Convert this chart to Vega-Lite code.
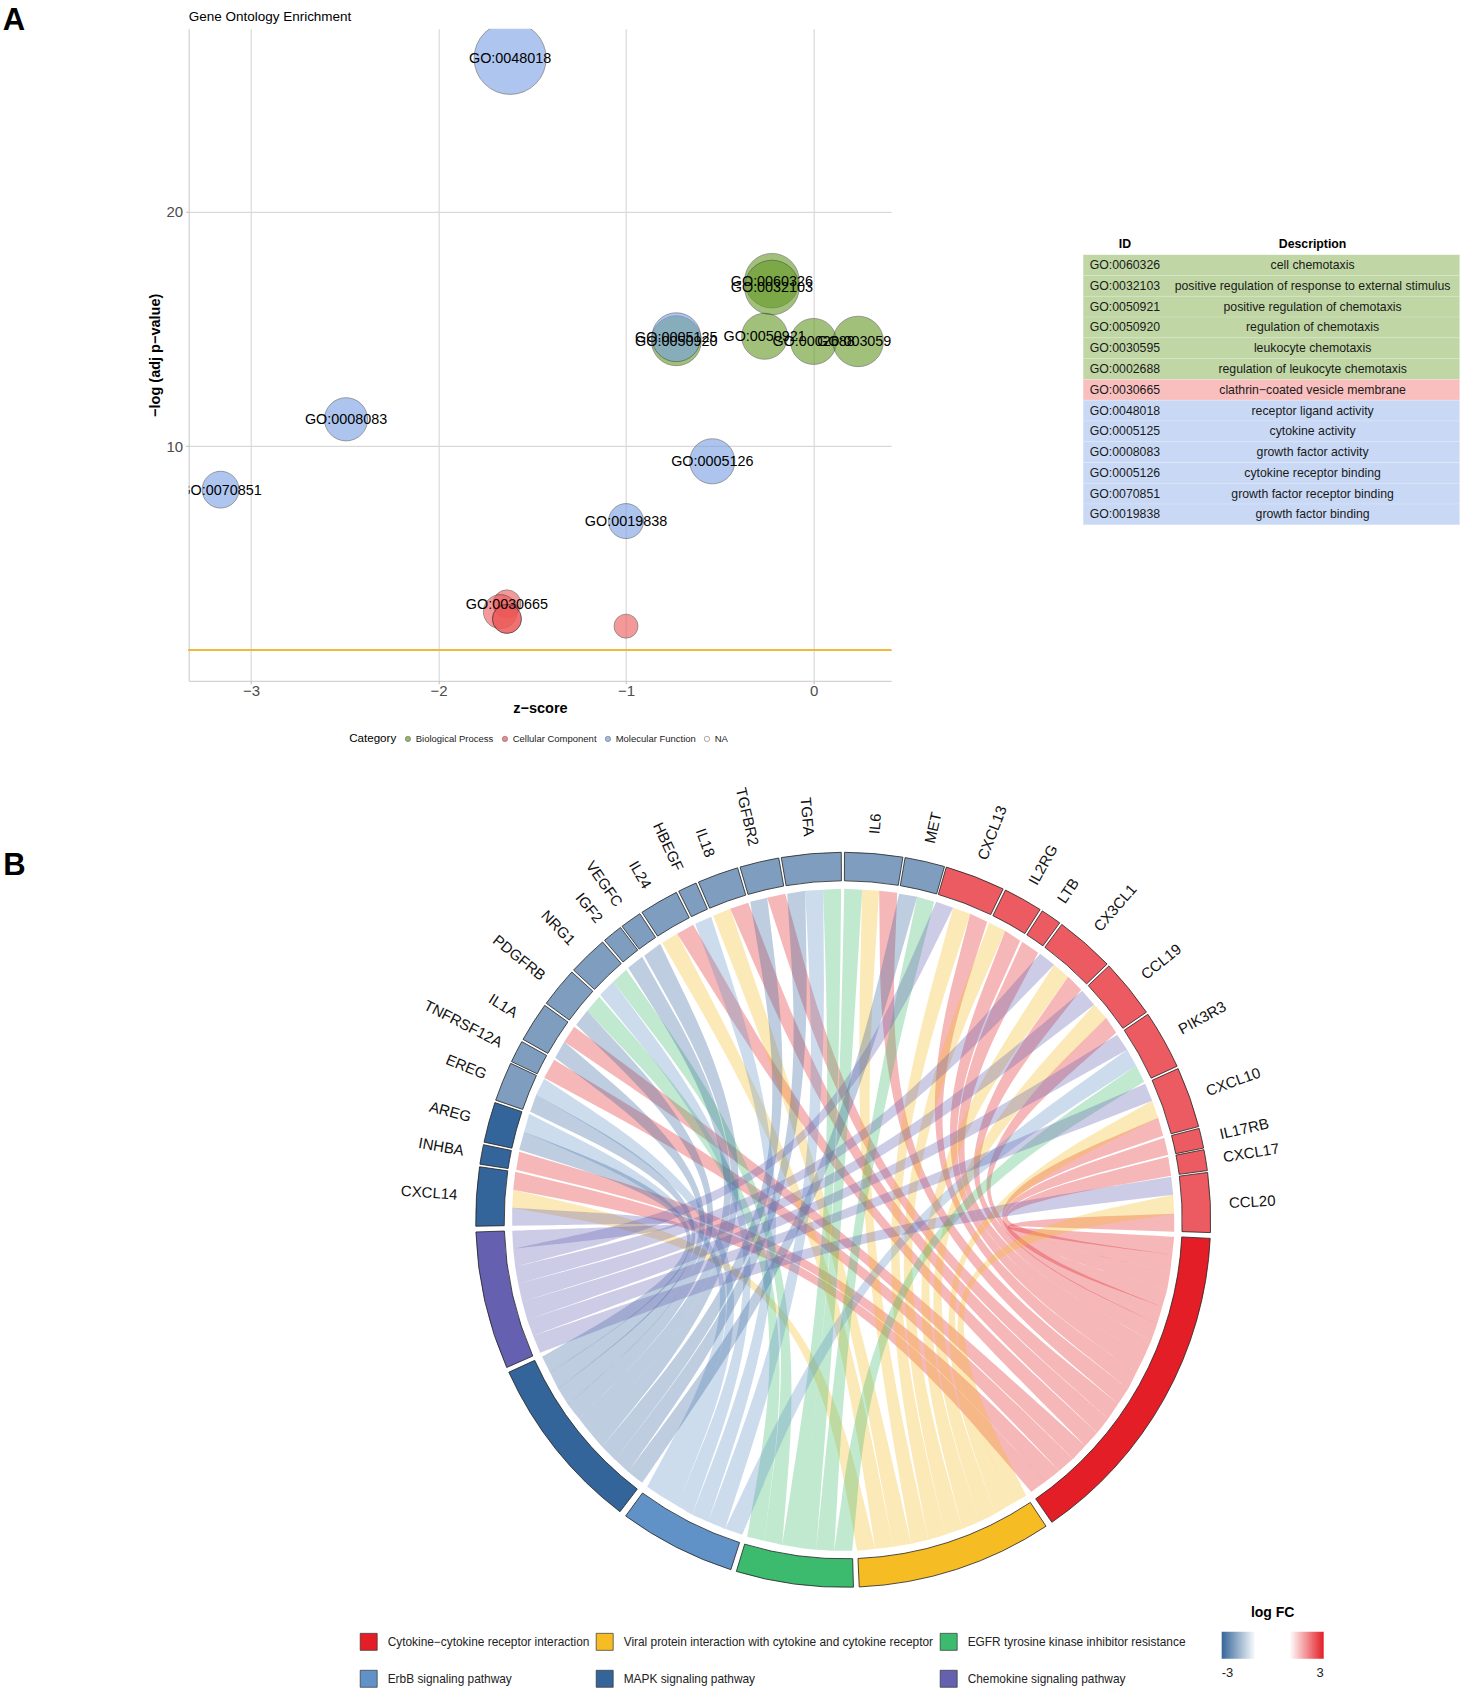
{"$schema":"https://vega.github.io/schema/vega-lite/v6.json","padding":{"left":2.7,"top":3.8,"right":0,"bottom":0},"background":"white","config":{"font":"Liberation Sans","view":{"stroke":null},"axis":{"labelFontSize":15,"labelColor":"#4d4d4d","titleFontSize":14.5,"titleFontWeight":"bold","titleColor":"#000","tickColor":"#bbbbbb","tickSize":3,"domainColor":"#c8c8c8","gridColor":"#d9d9d9","gridWidth":1.2,"labelPadding":3},"legend":{"labelFont":"Liberation Sans","titleFont":"Liberation Sans"}},"columns":2,"bounds":"flush","spacing":{"row":100,"column":191.5},"resolve":{"scale":{"color":"independent","fill":"independent","size":"independent"},"legend":{"color":"independent","fill":"independent","size":"independent"}},"concat":[{"width":702.5,"height":652,"layer":[{"data":{"values":[{"go":"GO:0048018","cat":"Molecular Function","z":-1.618,"p":26.54,"n":102},{"go":"GO:0008083","cat":"Molecular Function","z":-2.493,"p":11.15,"n":36.6},{"go":"GO:0070851","cat":"Molecular Function","z":-3.162,"p":8.15,"n":26.6},{"go":"GO:0005126","cat":"Molecular Function","z":-0.54,"p":9.36,"n":40},{"go":"GO:0019838","cat":"Molecular Function","z":-1,"p":6.81,"n":24},{"go":"GO:0050920","cat":"Biological Process","z":-0.732,"p":14.5,"n":49},{"go":"GO:0005125","cat":"Molecular Function","z":-0.732,"p":14.65,"n":47},{"go":"GO:0060326","cat":"Biological Process","z":-0.222,"p":17.06,"n":58.5},{"go":"GO:0032103","cat":"Biological Process","z":-0.222,"p":16.77,"n":58.5},{"go":"GO:0050921","cat":"Biological Process","z":-0.261,"p":14.69,"n":41.5},{"go":"GO:0002688","cat":"Biological Process","z":0,"p":14.47,"n":41.5},{"go":"GO:0030595","cat":"Biological Process","z":0.238,"p":14.47,"n":50},{"go":"GO:0030665","cat":"Cellular Component","z":-1.635,"p":3.28,"n":15.4},{"cat":"Cellular Component","z":-1.67,"p":2.95,"n":22.7},{"cat":"Cellular Component","z":-1.635,"p":2.64,"n":16.5},{"cat":"Cellular Component","z":-1.635,"p":2.64,"n":16.5},{"cat":"Cellular Component","z":-1,"p":2.33,"n":11.3}]},"layer":[{"mark":{"type":"rule","color":"#efb93a","strokeWidth":1},"encoding":{"y":{"datum":1.3,"type":"quantitative","scale":{"domain":[0,27.8],"nice":false,"zero":false}}}},{"mark":{"type":"circle","clip":true,"opacity":0.6,"stroke":"#222222","strokeWidth":0.7},"encoding":{"x":{"field":"z","type":"quantitative","title":"z−score","scale":{"domain":[-3.332,0.414],"nice":false,"zero":false},"axis":{"values":[-3,-2,-1,0],"format":"d","grid":true,"labelPadding":0,"titlePadding":3}},"y":{"field":"p","type":"quantitative","title":"−log (adj p−value)","scale":{"domain":[0,27.8],"nice":false,"zero":false},"axis":{"values":[10,20],"grid":true,"titlePadding":4}},"size":{"field":"n","type":"quantitative","scale":{"domain":[0,100],"range":[0,5093]},"legend":null},"color":{"field":"cat","type":"nominal","scale":{"domain":["Biological Process","Cellular Component","Molecular Function","NA"],"range":["#649925","#ed5757","#78a0e4","#ffffff"]},"legend":{"orient":"none","legendX":160.5,"legendY":705,"direction":"horizontal","title":"Category","titleOrient":"left","titleFontSize":11.6,"titleFontWeight":"normal","titleColor":"#000","labelFontSize":9.5,"labelColor":"#222","columns":4,"gridAlign":"each","columnPadding":6,"symbolSize":28,"symbolType":"circle","symbolStrokeColor":"#333","symbolStrokeWidth":0.6,"symbolOpacity":0.7,"labelOffset":3,"titlePadding":6}}}},{"transform":[{"filter":"datum.go"}],"mark":{"type":"text","clip":true,"fontSize":14.4,"color":"#000","dy":1},"encoding":{"x":{"field":"z","type":"quantitative"},"y":{"field":"p","type":"quantitative"},"text":{"field":"go"}}}]},{"data":{"values":[{"panel":"A","z":-4.323,"p":27.77}]},"mark":{"type":"text","align":"left","baseline":"alphabetic","fontSize":31,"fontWeight":"bold","color":"#000"},"encoding":{"x":{"field":"z","type":"quantitative"},"y":{"field":"p","type":"quantitative"},"text":{"field":"panel"}}},{"data":{"values":[{"heading":"Gene Ontology Enrichment","z":-3.332,"p":28.13}]},"mark":{"type":"text","align":"left","baseline":"alphabetic","fontSize":13.5,"color":"#000"},"encoding":{"x":{"field":"z","type":"quantitative"},"y":{"field":"p","type":"quantitative"},"text":{"field":"heading"}}}]},{"width":376.5,"height":652,"data":{"values":[{"id":"ID","description":"Description","category":"Header"},{"id":"GO:0060326","description":"cell chemotaxis","category":"BP"},{"id":"GO:0032103","description":"positive regulation of response to external stimulus","category":"BP"},{"id":"GO:0050921","description":"positive regulation of chemotaxis","category":"BP"},{"id":"GO:0050920","description":"regulation of chemotaxis","category":"BP"},{"id":"GO:0030595","description":"leukocyte chemotaxis","category":"BP"},{"id":"GO:0002688","description":"regulation of leukocyte chemotaxis","category":"BP"},{"id":"GO:0030665","description":"clathrin−coated vesicle membrane","category":"CC"},{"id":"GO:0048018","description":"receptor ligand activity","category":"MF"},{"id":"GO:0005125","description":"cytokine activity","category":"MF"},{"id":"GO:0008083","description":"growth factor activity","category":"MF"},{"id":"GO:0005126","description":"cytokine receptor binding","category":"MF"},{"id":"GO:0070851","description":"growth factor receptor binding","category":"MF"},{"id":"GO:0019838","description":"growth factor binding","category":"MF"}]},"layer":[{"transform":[{"filter":"datum.category!=='Header'"}],"mark":{"type":"rect","stroke":"#ffffff","strokeOpacity":0.25,"strokeWidth":0.6},"encoding":{"y":{"field":"id","type":"nominal","axis":null,"sort":null,"scale":{"type":"band","domain":["ID","GO:0060326","GO:0032103","GO:0050921","GO:0050920","GO:0030595","GO:0002688","GO:0030665","GO:0048018","GO:0005125","GO:0008083","GO:0005126","GO:0070851","GO:0019838"],"range":[205.2,496],"paddingInner":0,"paddingOuter":0}},"fill":{"field":"category","type":"nominal","legend":null,"scale":{"domain":["BP","CC","MF"],"range":["#c0d6a5","#f9bfbf","#c9d9f5"]}}}},{"transform":[{"filter":"datum.category!=='Header'"},{"fold":["id","description"],"as":["column","cell"]}],"mark":{"type":"text","fontSize":12.3,"color":"#1a1a1a"},"encoding":{"y":{"field":"id","type":"nominal","axis":null,"sort":null},"x":{"field":"column","type":"nominal","axis":null,"scale":{"type":"point","domain":["id","description"],"range":[41.7,229.4],"padding":0}},"text":{"field":"cell"}}},{"transform":[{"filter":"datum.category==='Header'"},{"fold":["id","description"],"as":["column","cell"]}],"mark":{"type":"text","fontSize":12.3,"fontWeight":"bold","color":"#000"},"encoding":{"y":{"field":"id","type":"nominal","axis":null,"sort":null},"x":{"field":"column","type":"nominal","axis":null},"text":{"field":"cell"}}}]},{"width":702.5,"height":909,"layer":[{"data":{"values":[{"gene":"CCL20","pathway":"Cytokine−cytokine receptor interaction","x":[331,83,331,331,331,329,329,329,82,331],"y":[-12,-3,-17,-17,-17,-35,-35,-35,-3,6]},{"gene":"CXCL17","pathway":"Cytokine−cytokine receptor interaction","x":[328,82,329,329,329,327,327,327,82,325],"y":[44,1,-35,-35,-35,-52,-52,-52,2,63]},{"gene":"IL17RB","pathway":"Cytokine−cytokine receptor interaction","x":[325,82,327,327,327,324,324,324,80,321],"y":[65,2,-52,-52,-52,-70,-70,-70,2,82]},{"gene":"CXCL10","pathway":"Cytokine−cytokine receptor interaction","x":[320,80,324,324,324,319,319,319,80,315],"y":[84,2,-70,-70,-70,-87,-87,-87,2,102]},{"gene":"CCL19","pathway":"Cytokine−cytokine receptor interaction","x":[273,74,319,319,319,314,314,314,72,263],"y":[187,12,-87,-87,-87,-104,-104,-104,12,202]},{"gene":"CX3CL1","pathway":"Cytokine−cytokine receptor interaction","x":[238,69,314,314,314,308,308,308,66,225],"y":[230,16,-104,-104,-104,-121,-121,-121,16,243]},{"gene":"LTB","pathway":"Cytokine−cytokine receptor interaction","x":[195,63,308,308,308,301,301,301,60,179],"y":[267,18,-121,-121,-121,-137,-137,-137,18,278]},{"gene":"IL2RG","pathway":"Cytokine−cytokine receptor interaction","x":[177,60,301,301,301,293,293,293,57,162],"y":[279,18,-137,-137,-137,-153,-153,-153,17,289]},{"gene":"CXCL13","pathway":"Cytokine−cytokine receptor interaction","x":[144,54,293,293,293,285,285,285,52,127],"y":[298,18,-153,-153,-153,-169,-169,-169,17,306]},{"gene":"IL6","pathway":"Cytokine−cytokine receptor interaction","x":[54,42,285,285,285,275,275,275,39,36],"y":[327,20,-169,-169,-169,-184,-184,-184,18,329]},{"gene":"TGFBR2","pathway":"Cytokine−cytokine receptor interaction","x":[-58,27,275,275,275,265,265,265,24,-76],"y":[326,18,-184,-184,-184,-199,-199,-199,16,322]},{"gene":"IL18","pathway":"Cytokine−cytokine receptor interaction","x":[-95,22,265,265,265,254,254,254,18,-113],"y":[317,15,-199,-199,-199,-213,-213,-213,12,311]},{"gene":"IL24","pathway":"Cytokine−cytokine receptor interaction","x":[-150,13,254,254,254,242,242,242,10,-166],"y":[295,10,-213,-213,-213,-226,-226,-226,8,286]},{"gene":"IL1A","pathway":"Cytokine−cytokine receptor interaction","x":[-269,-4,242,242,242,230,230,230,-6,-279],"y":[193,-4,-226,-226,-226,-239,-239,-239,-8,178]},{"gene":"TNFRSF12A","pathway":"Cytokine−cytokine receptor interaction","x":[-289,-8,230,230,230,216,216,216,-10,-299],"y":[160,-10,-239,-239,-239,-251,-251,-251,-14,142]},{"gene":"INHBA","pathway":"Cytokine−cytokine receptor interaction","x":[-324,-14,216,216,216,202,202,202,-16,-327],"y":[68,-23,-251,-251,-251,-262,-262,-262,-26,50]},{"gene":"CXCL14","pathway":"Cytokine−cytokine receptor interaction","x":[-328,-16,202,202,202,188,188,188,-18,-330],"y":[48,-27,-262,-262,-262,-272,-272,-272,-30,30]},{"gene":"CCL20","pathway":"Viral protein interaction with cytokine and cytokine receptor","x":[331,64,183,183,183,167,167,167,62,330],"y":[6,-34,-276,-276,-276,-285,-285,-285,-32,25]},{"gene":"CXCL10","pathway":"Viral protein interaction with cytokine and cytokine receptor","x":[315,60,167,167,167,152,152,152,58,309],"y":[102,-23,-285,-285,-285,-294,-294,-294,-22,119]},{"gene":"CCL19","pathway":"Viral protein interaction with cytokine and cytokine receptor","x":[263,52,152,152,152,136,136,136,48,251],"y":[202,-12,-294,-294,-294,-302,-302,-302,-11,215]},{"gene":"CX3CL1","pathway":"Viral protein interaction with cytokine and cytokine receptor","x":[225,45,136,136,136,119,119,119,42,211],"y":[243,-8,-302,-302,-302,-309,-309,-309,-7,255]},{"gene":"IL2RG","pathway":"Viral protein interaction with cytokine and cytokine receptor","x":[162,35,119,119,119,102,102,102,31,146],"y":[289,-2,-309,-309,-309,-315,-315,-315,-2,297]},{"gene":"CXCL13","pathway":"Viral protein interaction with cytokine and cytokine receptor","x":[127,28,102,102,102,85,85,85,24,110],"y":[306,-1,-315,-315,-315,-320,-320,-320,-1,312]},{"gene":"IL6","pathway":"Viral protein interaction with cytokine and cytokine receptor","x":[36,15,85,85,85,68,68,68,11,19],"y":[329,1,-320,-320,-320,-324,-324,-324,1,330]},{"gene":"IL18","pathway":"Viral protein interaction with cytokine and cytokine receptor","x":[-113,-6,68,68,68,50,50,50,-10,-130],"y":[311,-2,-324,-324,-324,-327,-327,-327,-3,304]},{"gene":"IL24","pathway":"Viral protein interaction with cytokine and cytokine receptor","x":[-166,-14,50,50,50,32,32,32,-18,-181],"y":[286,-5,-327,-327,-327,-329,-329,-329,-6,277]},{"gene":"CXCL14","pathway":"Viral protein interaction with cytokine and cytokine receptor","x":[-330,-38,32,32,32,14,14,14,-40,-331],"y":[30,-38,-329,-329,-329,-331,-331,-331,-40,12]},{"gene":"PIK3R3","pathway":"EGFR tyrosine kinase inhibitor resistance","x":[301,39,9,9,9,-9,-9,-9,36,293],"y":[138,-24,-331,-331,-331,-331,-331,-331,-22,154]},{"gene":"MET","pathway":"EGFR tyrosine kinase inhibitor resistance","x":[91,10,-9,-9,-9,-27,-27,-27,6,74],"y":[318,-2,-331,-331,-331,-330,-330,-330,-1,323]},{"gene":"IL6","pathway":"EGFR tyrosine kinase inhibitor resistance","x":[19,-1,-27,-27,-27,-44,-44,-44,-6,1],"y":[330,0,-330,-330,-330,-328,-328,-328,0,331]},{"gene":"TGFA","pathway":"EGFR tyrosine kinase inhibitor resistance","x":[-2,-6,-44,-44,-44,-61,-61,-61,-10,-20],"y":[331,0,-328,-328,-328,-325,-325,-325,0,330]},{"gene":"NRG1","pathway":"EGFR tyrosine kinase inhibitor resistance","x":[-217,-35,-61,-61,-61,-79,-79,-79,-38,-230],"y":[250,-10,-325,-325,-325,-321,-321,-321,-10,238]},{"gene":"PDGFRB","pathway":"EGFR tyrosine kinase inhibitor resistance","x":[-244,-40,-79,-79,-79,-96,-96,-96,-44,-256],"y":[223,-12,-321,-321,-321,-317,-317,-317,-14,209]},{"gene":"PIK3R3","pathway":"ErbB signaling pathway","x":[293,24,-101,-101,-101,-118,-118,-118,21,284],"y":[154,-20,-315,-315,-315,-309,-309,-309,-18,170]},{"gene":"TGFA","pathway":"ErbB signaling pathway","x":[-20,-17,-118,-118,-118,-135,-135,-135,-22,-38],"y":[330,2,-309,-309,-309,-302,-302,-302,4,329]},{"gene":"HBEGF","pathway":"ErbB signaling pathway","x":[-132,-34,-135,-135,-135,-151,-151,-151,-38,-148],"y":[303,0,-302,-302,-302,-295,-295,-295,0,296]},{"gene":"NRG1","pathway":"ErbB signaling pathway","x":[-230,-48,-151,-151,-151,-166,-166,-166,-51,-243],"y":[238,-7,-295,-295,-295,-286,-286,-286,-8,225]},{"gene":"EREG","pathway":"ErbB signaling pathway","x":[-299,-58,-166,-166,-166,-181,-181,-181,-61,-307],"y":[141,-18,-286,-286,-286,-277,-277,-277,-19,125]},{"gene":"AREG","pathway":"ErbB signaling pathway","x":[-314,-62,-181,-181,-181,-196,-196,-196,-64,-319],"y":[106,-22,-277,-277,-277,-267,-267,-267,-22,88]},{"gene":"MET","pathway":"MAPK signaling pathway","x":[74,-16,-201,-201,-201,-215,-215,-215,-20,56],"y":[323,8,-263,-263,-263,-252,-252,-252,9,326]},{"gene":"TGFA","pathway":"MAPK signaling pathway","x":[-38,-32,-215,-215,-215,-228,-228,-228,-36,-56],"y":[329,10,-252,-252,-252,-240,-240,-240,10,326]},{"gene":"TGFBR2","pathway":"MAPK signaling pathway","x":[-76,-38,-228,-228,-228,-241,-241,-241,-42,-93],"y":[322,10,-240,-240,-240,-227,-227,-227,12,318]},{"gene":"VEGFC","pathway":"MAPK signaling pathway","x":[-183,-53,-241,-241,-241,-253,-253,-253,-56,-199],"y":[276,6,-227,-227,-227,-213,-213,-213,6,264]},{"gene":"IGF2","pathway":"MAPK signaling pathway","x":[-201,-56,-253,-253,-253,-264,-264,-264,-60,-215],"y":[263,6,-213,-213,-213,-199,-199,-199,6,252]},{"gene":"PDGFRB","pathway":"MAPK signaling pathway","x":[-256,-65,-264,-264,-264,-275,-275,-275,-68,-267],"y":[209,1,-199,-199,-199,-185,-185,-185,1,195]},{"gene":"IL1A","pathway":"MAPK signaling pathway","x":[-279,-69,-275,-275,-275,-285,-285,-285,-72,-288],"y":[178,-1,-185,-185,-185,-169,-169,-169,-1,162]},{"gene":"EREG","pathway":"MAPK signaling pathway","x":[-307,-74,-285,-285,-285,-293,-293,-293,-76,-313],"y":[125,-6,-169,-169,-169,-153,-153,-153,-6,108]},{"gene":"AREG","pathway":"MAPK signaling pathway","x":[-319,-76,-293,-293,-293,-301,-301,-301,-78,-324],"y":[88,-8,-153,-153,-153,-137,-137,-137,-8,70]},{"gene":"CCL20","pathway":"Chemokine signaling pathway","x":[330,4,-303,-303,-303,-310,-310,-310,2,328],"y":[25,-14,-133,-133,-133,-116,-116,-116,-9,43]},{"gene":"CXCL10","pathway":"Chemokine signaling pathway","x":[309,0,-310,-310,-310,-316,-316,-316,-2,302],"y":[119,0,-116,-116,-116,-100,-100,-100,4,136]},{"gene":"PIK3R3","pathway":"Chemokine signaling pathway","x":[284,-4,-316,-316,-316,-321,-321,-321,-6,274],"y":[170,9,-100,-100,-100,-82,-82,-82,13,185]},{"gene":"CCL19","pathway":"Chemokine signaling pathway","x":[251,-9,-321,-321,-321,-325,-325,-325,-11,239],"y":[215,16,-82,-82,-82,-64,-64,-64,20,229]},{"gene":"CX3CL1","pathway":"Chemokine signaling pathway","x":[211,-14,-325,-325,-325,-328,-328,-328,-16,197],"y":[255,24,-64,-64,-64,-47,-47,-47,28,266]},{"gene":"CXCL13","pathway":"Chemokine signaling pathway","x":[110,-28,-328,-328,-328,-330,-330,-330,-30,93],"y":[312,33,-47,-47,-47,-29,-29,-29,36,318]},{"gene":"CXCL14","pathway":"Chemokine signaling pathway","x":[-331,-82,-330,-330,-330,-331,-331,-331,-83,-331],"y":[12,-2,-29,-29,-29,-11,-11,-11,-2,-6]}]},"transform":[{"flatten":["x","y"]}],"mark":{"type":"line","interpolate":"basis","fillOpacity":0.32,"strokeWidth":0,"stroke":"transparent"},"encoding":{"x":{"field":"x","type":"quantitative","axis":null,"scale":{"domain":[-654.5,48],"nice":false,"zero":false}},"y":{"field":"y","type":"quantitative","axis":null,"scale":{"domain":[-470,439],"nice":false,"zero":false}},"detail":{"field":"gene"},"order":{"value":null},"fill":{"field":"pathway","type":"nominal","legend":{"orient":"none","legendX":171,"legendY":852,"title":null,"direction":"horizontal","columns":3,"gridAlign":"each","columnPadding":5,"rowPadding":17,"symbolType":"square","symbolSize":289,"symbolStrokeColor":"#333","symbolStrokeWidth":0.7,"symbolOpacity":1,"symbolFillOpacity":1,"labelFontSize":11.9,"labelColor":"#222","labelLimit":400,"labelOffset":10},"scale":{"domain":["Cytokine−cytokine receptor interaction","Viral protein interaction with cytokine and cytokine receptor","EGFR tyrosine kinase inhibitor resistance","ErbB signaling pathway","MAPK signaling pathway","Chemokine signaling pathway"],"range":["#e41e26","#f5bc23","#3cba6e","#6192c7","#34659a","#6560b0"]}}}},{"data":{"values":[{"pathway":"Cytokine−cytokine receptor interaction","start":92.9,"end":145.4},{"pathway":"Viral protein interaction with cytokine and cytokine receptor","start":146.5,"end":177.5},{"pathway":"EGFR tyrosine kinase inhibitor resistance","start":178.4,"end":196.9},{"pathway":"ErbB signaling pathway","start":197.8,"end":216.3},{"pathway":"MAPK signaling pathway","start":217.4,"end":245.5},{"pathway":"Chemokine signaling pathway","start":246.3,"end":268.1}]},"mark":{"type":"arc","innerRadius":339,"outerRadius":367.5,"stroke":"#222222","strokeWidth":0.8},"encoding":{"x":{"datum":0,"type":"quantitative","axis":null},"y":{"datum":0,"type":"quantitative","axis":null},"theta":{"field":"start","type":"quantitative","stack":null,"scale":{"domain":[0,360],"range":[0,6.283185]}},"theta2":{"field":"end"},"fill":{"field":"pathway","type":"nominal","legend":{"orient":"none","legendX":171,"legendY":852,"title":null,"direction":"horizontal","columns":3,"gridAlign":"each","columnPadding":5,"rowPadding":17,"symbolType":"square","symbolSize":289,"symbolStrokeColor":"#333","symbolStrokeWidth":0.7,"symbolOpacity":1,"symbolFillOpacity":1,"labelFontSize":11.9,"labelColor":"#222","labelLimit":400,"labelOffset":10},"scale":{"domain":["Cytokine−cytokine receptor interaction","Viral protein interaction with cytokine and cytokine receptor","EGFR tyrosine kinase inhibitor resistance","ErbB signaling pathway","MAPK signaling pathway","Chemokine signaling pathway"],"range":["#e41e26","#f5bc23","#3cba6e","#6192c7","#34659a","#6560b0"]}}}},{"data":{"name":"genes","values":[{"gene":"IL6","start":0.2,"end":9.35,"logFC":-2.26,"lx":32,"ly":396,"rot":-85},{"gene":"MET","start":9.7,"end":16,"logFC":-2.26,"lx":90,"ly":392,"rot":-77},{"gene":"CXCL13","start":16.3,"end":25.8,"logFC":2.46,"lx":149,"ly":387,"rot":-69},{"gene":"IL2RG","start":26.2,"end":32.4,"logFC":2.46,"lx":200,"ly":355,"rot":-61},{"gene":"LTB","start":32.8,"end":36.1,"logFC":2.46,"lx":225,"ly":329,"rot":-56},{"gene":"CX3CL1","start":36.5,"end":45.9,"logFC":2.46,"lx":272,"ly":312,"rot":-49},{"gene":"CCL19","start":46.3,"end":55.6,"logFC":2.46,"lx":318,"ly":258,"rot":-39},{"gene":"PIK3R3","start":56,"end":65.3,"logFC":2.46,"lx":359,"ly":202,"rot":-29},{"gene":"CXCL10","start":65.7,"end":75.3,"logFC":2.46,"lx":390,"ly":138,"rot":-20},{"gene":"IL17RB","start":75.6,"end":78.75,"logFC":2.46,"lx":401,"ly":91,"rot":-13},{"gene":"CXCL17","start":79,"end":82.3,"logFC":2.46,"lx":408,"ly":67,"rot":-9},{"gene":"CCL20","start":82.6,"end":92,"logFC":2.46,"lx":409,"ly":18,"rot":-3},{"gene":"CXCL14","start":269,"end":278.3,"logFC":-3,"lx":-414,"ly":27,"rot":4},{"gene":"INHBA","start":278.7,"end":281.8,"logFC":-3,"lx":-402,"ly":73,"rot":10},{"gene":"AREG","start":282.2,"end":288.6,"logFC":-3,"lx":-393,"ly":108,"rot":15},{"gene":"EREG","start":289,"end":295.2,"logFC":-2.26,"lx":-377,"ly":153,"rot":22},{"gene":"TNFRSF12A","start":295.5,"end":299,"logFC":-2.26,"lx":-380,"ly":196,"rot":27},{"gene":"IL1A","start":299.4,"end":305.7,"logFC":-2.26,"lx":-340,"ly":214,"rot":32},{"gene":"PDGFRB","start":306.1,"end":312.4,"logFC":-2.26,"lx":-324,"ly":262,"rot":39},{"gene":"NRG1","start":312.8,"end":319.1,"logFC":-2.26,"lx":-285,"ly":292,"rot":46},{"gene":"IGF2","start":319.5,"end":322.7,"logFC":-2.26,"lx":-254,"ly":312,"rot":51},{"gene":"VEGFC","start":323,"end":326.4,"logFC":-2.26,"lx":-239,"ly":336,"rot":55},{"gene":"IL24","start":326.8,"end":333,"logFC":-2.26,"lx":-203,"ly":345,"rot":60},{"gene":"HBEGF","start":333.4,"end":336.4,"logFC":-2.26,"lx":-175,"ly":373,"rot":65},{"gene":"IL18","start":336.8,"end":343.3,"logFC":-2.26,"lx":-138,"ly":377,"rot":70},{"gene":"TGFBR2","start":343.7,"end":349.9,"logFC":-2.26,"lx":-96,"ly":403,"rot":77},{"gene":"TGFA","start":350.3,"end":359.7,"logFC":-2.26,"lx":-36,"ly":403,"rot":85}]},"mark":{"type":"arc","innerRadius":339,"outerRadius":367.5,"stroke":"#222222","strokeWidth":0.8},"encoding":{"x":{"datum":0,"type":"quantitative","axis":null},"y":{"datum":0,"type":"quantitative","axis":null},"theta":{"field":"start","type":"quantitative","stack":null,"scale":{"domain":[0,360],"range":[0,6.283185]}},"theta2":{"field":"end"},"color":{"field":"logFC","type":"quantitative","scale":{"domain":[-3,-1,1,3],"range":["#34659a","#ffffff","#ffffff","#e41e26"],"interpolate":"rgb"},"legend":{"orient":"none","legendX":1033,"legendY":825,"title":"log FC","titleAnchor":"middle","titleFontSize":14,"titleFontWeight":"bold","titleColor":"#000","direction":"horizontal","gradientLength":102,"gradientThickness":27,"values":[-3,3],"labelExpr":"datum.value<0?'-3':'3'","labelFontSize":13,"labelColor":"#222","labelOffset":8,"titlePadding":12}}}},{"data":{"name":"genes"},"mark":{"type":"text","fontSize":15,"color":"#111"},"encoding":{"x":{"field":"lx","type":"quantitative"},"y":{"field":"ly","type":"quantitative"},"text":{"field":"gene"},"angle":{"field":"rot","type":"quantitative","scale":null}}},{"data":{"values":[{"panel":"B","px":-840,"py":345}]},"mark":{"type":"text","align":"left","baseline":"alphabetic","fontSize":31,"fontWeight":"bold","color":"#000"},"encoding":{"x":{"field":"px","type":"quantitative"},"y":{"field":"py","type":"quantitative"},"text":{"field":"panel"}}}]}]}
